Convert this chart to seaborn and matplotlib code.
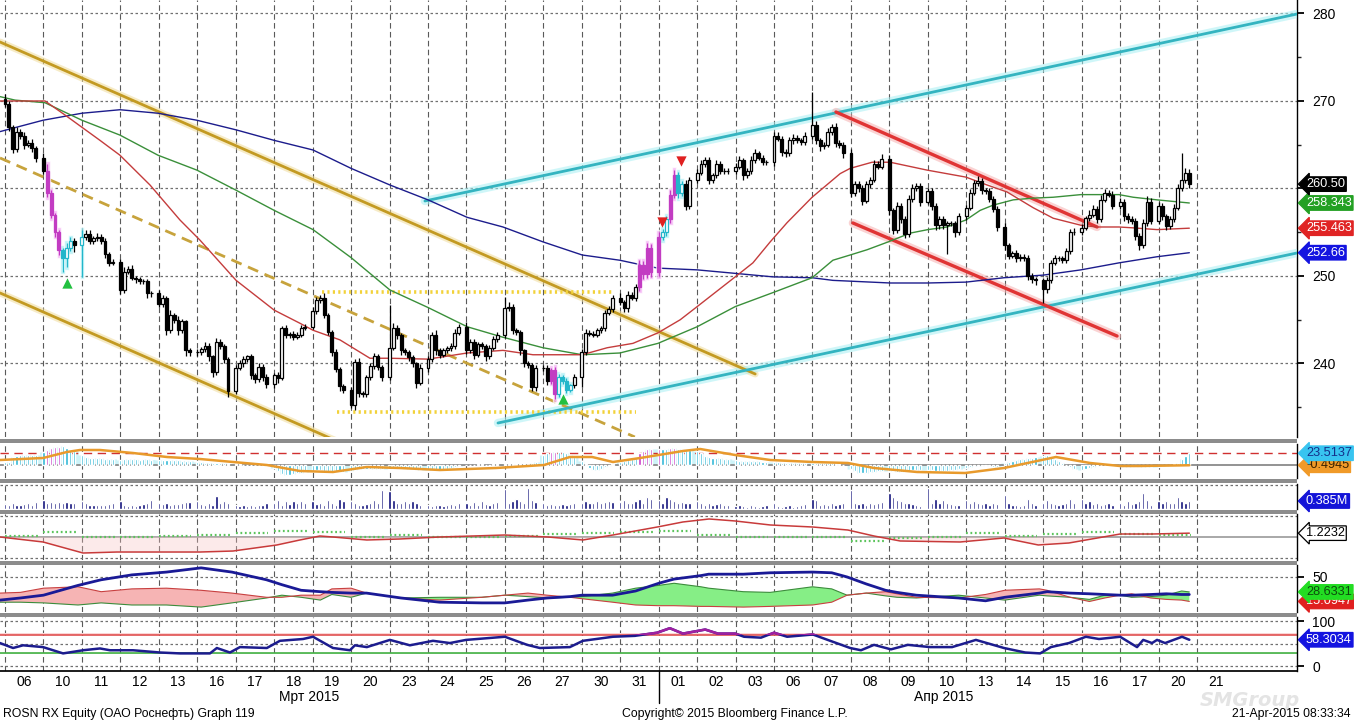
import numpy as np
import pandas as pd
import matplotlib
matplotlib.use("Agg")
import matplotlib.pyplot as plt
from matplotlib.patches import Rectangle
import seaborn as sns

sns.set_theme(style="white")
plt.rcParams["font.family"] = ["Liberation Sans", "DejaVu Sans"]

# ---------------- data ----------------
DAY_LABELS = ["06", "10", "11", "12", "13", "16", "17", "18", "19", "20", "23", "24", "25", "26", "27", "30", "31",
              "01", "02", "03", "06", "07", "08", "09", "10", "13", "14", "15", "16", "17", "20", "21"]
MONTH_LABELS = ["Мрт 2015", "Апр 2015"]
MONTH_X = [7.9, 24.4]
MONTH_SPLIT = 17
PRICE_TICKS = [240, 250, 260, 270, 280]
PRICE_TICK_LABELS = ["240", "250", "", "270", "280"]   # 260 sits under the last-price tag

OPEN_FIRST = 270.2
CLOSE = [
    [269.6, 267.0, 264.5, 266.5, 266.0, 265.0, 265.2, 264.6, 263.5],
    [262.0, 259.5, 257.0, 255.0, 253.0, 252.0, 253.2, 254.0, 253.5],
    [254.5, 254.8, 254.0, 254.3, 254.5, 254.0, 252.5, 251.5, 251.6],
    [248.4, 250.5, 250.8, 249.8, 249.6, 249.4, 249.4, 248.0, 248.0],
    [246.8, 247.5, 243.8, 245.5, 245.0, 243.8, 244.8, 241.5, 241.3],
    [241.3, 241.6, 242.0, 240.8, 239.0, 242.5, 242.0, 240.5, 236.8],
    [239.5, 240.0, 240.5, 240.8, 238.7, 238.2, 239.6, 238.5, 237.6],
    [238.7, 238.3, 244.0, 243.2, 243.4, 243.0, 243.3, 244.0, 244.2],
    [246.0, 247.3, 247.5, 245.5, 243.6, 241.3, 239.4, 237.4, 237.0],
    [235.2, 240.2, 236.6, 236.5, 238.5, 239.7, 240.8, 239.6, 238.5],
    [241.8, 244.0, 243.2, 241.5, 241.3, 240.7, 240.0, 237.8, 239.5],
    [240.5, 243.3, 241.5, 241.0, 241.5, 241.8, 242.0, 243.5, 244.2],
    [241.5, 242.5, 241.0, 242.2, 242.0, 240.8, 241.8, 242.8, 243.2],
    [246.3, 246.5, 243.8, 243.6, 241.5, 240.0, 239.8, 237.3, 239.5],
    [239.5, 238.0, 239.3, 236.5, 238.5, 238.0, 237.0, 237.5, 238.5],
    [241.3, 243.5, 243.4, 243.3, 243.8, 244.0, 245.8, 246.2, 247.5],
    [247.0, 246.3, 247.8, 247.5, 248.7, 251.3, 250.2, 253.2, 250.5],
    [254.5, 255.0, 256.5, 259.3, 261.5, 259.5, 260.5, 258.0, 261.0],
    [261.8, 262.8, 263.2, 261.0, 261.5, 262.8, 262.0, 262.0, 262.0],
    [262.5, 263.2, 261.5, 262.0, 263.3, 264.0, 263.5, 263.0, 263.0],
    [266.0, 265.7, 264.2, 264.0, 265.5, 265.8, 265.5, 265.3, 266.0],
    [267.2, 265.5, 264.8, 265.0, 266.5, 267.0, 265.2, 265.0, 264.0],
    [259.5, 260.5, 260.0, 258.6, 260.5, 261.0, 262.8, 262.5, 263.4],
    [257.5, 255.3, 258.0, 256.5, 254.8, 258.8, 260.0, 260.3, 258.5],
    [259.7, 258.0, 255.8, 256.5, 255.8, 256.0, 256.0, 255.0, 256.8],
    [257.8, 259.5, 260.6, 260.9, 259.8, 259.7, 258.8, 257.7, 255.6],
    [253.5, 252.3, 252.6, 252.0, 252.2, 252.0, 250.0, 249.6, 249.5],
    [248.5, 249.5, 251.5, 252.0, 252.0, 251.8, 252.8, 255.0, 255.0],
    [255.5, 256.6, 257.0, 257.7, 256.5, 258.7, 259.5, 259.3, 258.0],
    [258.5, 256.8, 256.5, 256.3, 254.6, 253.5, 256.0, 258.5, 256.3],
    [258.0, 256.8, 255.7, 256.5, 257.8, 260.0, 261.0, 261.8, 260.5],
]
# upper / lower shadow lengths, tenths of a rouble
WICK_UP = [
    [6, 4, 3, 5, 3, 4, 3, 4, 3], [5, 8, 3, 2, 3, 2, 6, 4, 3], [8, 4, 5, 3, 4, 3, 3, 2, 3],
    [3, 5, 3, 4, 2, 3, 2, 2, 3], [4, 3, 2, 6, 3, 4, 3, 2, 3], [4, 3, 5, 3, 2, 4, 3, 2, 2],
    [3, 4, 3, 2, 3, 2, 4, 3, 3], [2, 3, 3, 4, 2, 3, 3, 4, 3], [4, 3, 3, 5, 3, 2, 3, 2, 3],
    [3, 3, 4, 2, 2, 3, 4, 3, 2], [49, 6, 4, 3, 3, 2, 3, 2, 4], [4, 3, 5, 3, 3, 2, 3, 4, 3],
    [5, 3, 3, 2, 3, 2, 3, 3, 4], [13, 5, 3, 3, 2, 2, 3, 2, 3], [3, 3, 2, 3, 3, 2, 3, 2, 3],
    [3, 4, 3, 3, 3, 3, 3, 4, 3], [6, 3, 5, 4, 4, 5, 4, 6, 4], [5, 4, 4, 5, 6, 4, 4, 5, 3],
    [4, 5, 4, 4, 3, 4, 3, 3, 3], [4, 5, 3, 3, 4, 5, 3, 3, 3], [5, 4, 3, 3, 4, 4, 3, 3, 4],
    [38, 5, 3, 3, 4, 4, 5, 3, 3], [5, 4, 3, 4, 4, 3, 4, 3, 5], [4, 3, 5, 3, 3, 4, 5, 3, 3],
    [4, 3, 3, 4, 3, 3, 3, 3, 4], [3, 4, 4, 5, 3, 3, 3, 3, 3], [4, 3, 3, 4, 3, 3, 4, 3, 3],
    [3, 4, 3, 4, 3, 3, 4, 4, 5], [4, 3, 5, 4, 3, 5, 4, 3, 4], [4, 3, 4, 3, 3, 3, 5, 6, 4],
    [4, 3, 3, 4, 4, 5, 30, 5, 4],
]
WICK_DN = [
    [3, 4, 5, 3, 4, 5, 3, 4, 5], [3, 5, 4, 5, 6, 15, 10, 4, 8], [36, 4, 3, 4, 3, 4, 5, 4, 3],
    [5, 4, 3, 3, 4, 3, 3, 5, 4], [3, 4, 5, 3, 4, 5, 3, 6, 4], [4, 3, 3, 5, 5, 3, 4, 5, 6],
    [3, 3, 4, 3, 5, 4, 3, 5, 4], [4, 5, 2, 3, 3, 3, 2, 3, 2], [3, 3, 4, 3, 4, 5, 4, 5, 4],
    [3, 5, 4, 3, 3, 4, 3, 4, 5], [4, 3, 4, 5, 3, 4, 4, 6, 3], [5, 3, 5, 4, 3, 3, 4, 3, 3],
    [4, 3, 5, 3, 4, 5, 3, 3, 3], [3, 3, 4, 3, 5, 4, 3, 5, 4], [4, 5, 3, 6, 3, 4, 4, 3, 3],
    [12, 3, 3, 3, 3, 3, 3, 3, 3], [3, 4, 4, 3, 4, 4, 5, 4, 6], [5, 4, 4, 4, 4, 6, 4, 5, 4],
    [4, 3, 4, 5, 4, 3, 4, 3, 3], [4, 3, 5, 3, 3, 4, 3, 3, 3], [4, 3, 5, 4, 3, 4, 3, 3, 3],
    [4, 4, 5, 3, 3, 4, 5, 4, 5], [5, 4, 4, 5, 3, 4, 3, 3, 3], [5, 5, 4, 4, 5, 3, 3, 3, 5],
    [3, 5, 5, 4, 4, 33, 3, 5, 3], [4, 3, 3, 3, 4, 3, 4, 4, 5], [5, 4, 3, 4, 3, 3, 5, 4, 5],
    [16, 4, 3, 3, 3, 3, 3, 3, 3], [3, 3, 3, 3, 5, 3, 3, 3, 4], [3, 5, 4, 4, 5, 5, 3, 3, 4],
    [4, 4, 4, 3, 3, 3, 3, 4, 5],
]
# bar highlight: k = normal, m = magenta, c = cyan
BAR_TAG = ["kkkkkkkkk", "kmmmmccck", "ckkkkkkkk", "kkkkkkkkk", "kkkkkkkkk", "kkkkkkkkk", "kkkkkkkkk",
           "kkkkkkkkk", "kkkkkkkkk", "kkkkkkkkk", "kkkkkkkkk", "kkkkkkkkk", "kkkkkkkkk", "kkkkkkkkk",
           "kkmmcccck", "kkkkkkkkk", "kkkkkmmmm", "mccmmcckk", "kkkkkkkkk", "kkkkkkkkk", "kkkkkkkkk",
           "kkkkkkkkk", "kkkkkkkkk", "kkkkkkkkk", "kkkkkkkkk", "kkkkkkkkk", "kkkkkkkkk", "kkkkkkkkk",
           "kkkkkkkkk", "kkkkkkkkk", "kkkkkkkkk"]

RED_MA_X = [-0.13, 1.04, 1.56, 2.47, 2.99, 3.77, 4.55, 5.07, 6.01, 7.0, 7.67, 8.01, 8.71, 9.49, 10.01, 11.0,
            12.02, 12.95, 13.73, 15.01, 15.66, 16.33, 16.98, 17.56, 18.0, 18.99, 19.45, 19.9, 20.34, 20.99,
            21.72, 21.98, 22.55, 23.02, 23.98, 24.99, 25.54, 26.06, 26.74, 27.26, 27.98, 28.4, 28.97, 29.34,
            29.96, 30.8]
RED_MA_Y = [270.0, 270.0, 268.4, 265.5, 263.8, 260.4, 256.4, 254.1, 249.5, 246.1, 244.6, 243.8, 242.7, 240.6,
            240.6, 240.5, 241.2, 241.5, 241.0, 241.0, 241.8, 242.3, 243.5, 245.0, 246.5, 249.9, 251.5, 253.9,
            256.1, 259.0, 261.7, 262.3, 263.0, 263.0, 262.1, 261.3, 260.4, 259.6, 257.8, 256.6, 255.8, 255.6,
            255.6, 255.5, 255.3, 255.463]
GREEN_MA_X = [-0.13, 0.26, 1.04, 2.0, 2.99, 3.98, 4.99, 6.01, 7.0, 8.01, 9.0, 10.01, 11.0, 12.02, 12.95, 13.99,
              15.01, 15.99, 16.98, 18.0, 18.99, 19.97, 20.99, 21.53, 21.98, 22.42, 22.97, 23.54, 24.0, 24.5,
              24.99, 25.36, 25.7, 26.22, 26.74, 27.26, 27.98, 28.97, 29.34, 29.96, 30.8]
GREEN_MA_Y = [270.5, 270.1, 269.8, 267.8, 266.1, 263.8, 262.1, 259.8, 257.5, 255.3, 252.1, 248.4, 246.4, 244.2,
              243.0, 241.8, 241.0, 241.2, 242.3, 244.2, 246.5, 248.1, 249.8, 251.8, 252.4, 253.0, 253.9, 254.9,
              255.3, 255.6, 256.4, 257.5, 258.1, 258.7, 258.9, 259.0, 259.3, 259.3, 259.0, 258.7, 258.343]
BLUE_MA_X = [-0.13, 0.99, 2.0, 2.99, 3.98, 4.99, 6.01, 7.0, 8.01, 9.0, 10.01, 11.0, 12.02, 12.95, 13.99, 15.01,
             15.99, 16.52, 16.98, 18.0, 18.99, 19.97, 20.99, 21.53, 23.02, 24.0, 24.99, 25.98, 27.0, 27.98,
             28.97, 29.96, 30.8]
BLUE_MA_Y = [266.5, 267.8, 268.6, 269.0, 268.6, 267.8, 266.7, 265.5, 264.4, 262.3, 260.4, 258.7, 256.7, 255.6,
             253.9, 252.4, 251.8, 251.3, 250.9, 250.7, 250.3, 249.9, 249.8, 249.5, 249.2, 249.2, 249.3, 249.8,
             250.1, 250.7, 251.5, 252.2, 252.66]

# hand-drawn trend lines: (x0, x1), (y0, y1)
GOLD_UPPER = ([-0.13, 19.51], [276.74, 238.8])
GOLD_LOWER = ([-0.13, 9.0], [248.06, 230.42])
GOLD_MID = ([-0.13, 16.38], [263.49, 231.6])
YEL_UPPER = ([8.24, 15.79], [248.2, 248.2])
YEL_LOWER = ([8.63, 16.41], [234.5, 234.5])
CYAN_UPPER = ([10.92, 33.6], [258.57, 279.94])
CYAN_LOWER = ([12.82, 33.6], [233.2, 252.63])
RED_UPPER = ([21.61, 28.4], [268.74, 255.6])
RED_LOWER = ([22.05, 28.92], [256.06, 243.14])
SIG_DN_X, SIG_DN_Y = [17.58, 17.09], [263.1, 256.2]
SIG_UP_X, SIG_UP_Y = [1.61, 14.51], [249.2, 235.9]

LAST_PRICE = 260.50

MACD_HIST = [
    [6, 6, 16, 18, 20, 20, 20, 20, 20], [26, 30, 34, 36, 36, 38, 34, 30, 28], [20, 16, 14, 14, 14, 14, 12, 12, 12],
    [10, 12, 12, 12, 12, 11, 12, 12, 11], [10, 10, 10, 10, 10, 10, 9, 9, 8], [6, 6, 5, 5, 5, 4, 4, 4, 3],
    [2, 2, 1, 1, 1, 0, 0, -1, -1], [-6, -12, -18, -20, -20, -18, -16, -16, -14],
    [-12, -10, -10, -12, -14, -14, -14, -14, -14], [-12, -10, -8, -8, -8, -8, -8, -8, -8],
    [-8, -6, -6, -6, -8, -8, -8, -10, -10], [-10, -10, -10, -10, -10, -8, -6, -4, -2],
    [0, 1, 1, 2, 2, 1, 1, 2, 2], [2, 2, 2, 2, 2, 2, 2, 4, 6], [20, 24, 26, 26, 26, 26, 24, 20, 16],
    [8, 2, -6, -10, -10, -8, -4, -2, 2], [6, 8, 10, 12, 14, 24, 28, 32, 32], [32, 32, 32, 34, 34, 32, 32, 30, 30],
    [28, 24, 18, 16, 14, 14, 14, 12, 12], [10, 8, 8, 8, 8, 8, 8, 6, 6], [6, 6, 5, 5, 5, 5, 4, 4, 4],
    [4, 4, 4, 4, 4, 4, 3, 2, 0], [-8, -12, -16, -16, -16, -14, -14, -12, -12],
    [-12, -12, -14, -14, -12, -12, -10, -10, -10], [-10, -10, -12, -12, -12, -12, -10, -10, -8],
    [-6, -4, -2, -2, -2, -2, -2, -4, -4], [4, 6, 8, 10, 12, 12, 14, 14, 16], [18, 20, 16, 12, 8, 4, 0, -4, -8],
    [-10, -8, -6, -4, -2, 0, 0, 0, 0], [-2, -4, -4, -4, -4, -4, -4, -4, -4], [-4, -2, -2, 0, 2, 4, 12, 18, 23.5137],
]
MACD_SIG_X = [-0.13, 0.99, 1.61, 1.95, 2.47, 3.33, 4.21, 5.07, 5.93, 6.81, 7.67, 8.53, 9.41, 10.27, 11.31, 12.77,
              14.02, 14.69, 15.27, 15.81, 16.52, 17.63, 18.08, 18.99, 19.9, 21.01, 21.92, 22.6, 23.72, 24.97,
              25.98, 27.33, 28.22, 29.0, 29.5, 30.8]
MACD_SIG_Y = [10, 14, 26, 30, 30, 24, 16, 12, 6, 0, -12, -14, -4, -6, -10, -6, 0, 16, 16, 6, 14, 28, 32, 20, 10,
              6, 4, -6, -14, -16, -6, 16, 4, -2, -2, -0.4945]
MACD_LEVEL = 24

VOLUME = [
    [0.25, 0.2, 0.3, 0.2, 0.2, 0.25, 0.3, 0.2, 0.35], [0.45, 0.3, 0.35, 0.3, 0.35, 0.3, 0.35, 0.3, 0.3],
    [0.37, 0.29, 0.2, 0.18, 0.2, 0.18, 0.2, 0.25, 0.3], [0.37, 0.2, 0.15, 0.2, 0.15, 0.2, 0.25, 0.3, 0.45],
    [0.3, 0.25, 0.3, 0.2, 0.25, 0.25, 0.3, 0.35, 0.35], [0.37, 0.25, 0.2, 0.3, 0.2, 0.61, 0.3, 0.37, 0.29],
    [0.2, 0.15, 0.2, 0.15, 0.2, 0.15, 0.2, 0.2, 0.3], [0.3, 0.45, 0.2, 0.37, 0.25, 0.4, 0.3, 0.37, 0.3],
    [0.37, 0.25, 0.3, 0.2, 0.45, 0.3, 0.2, 0.5, 0.37], [0.4, 0.3, 0.2, 0.2, 0.25, 0.3, 0.45, 0.3, 0.93],
    [0.85, 0.45, 0.3, 0.3, 0.37, 0.3, 0.37, 0.3, 0.2], [0.2, 0.15, 0.2, 0.2, 0.15, 0.2, 0.25, 0.2, 0.3],
    [0.3, 0.2, 0.35, 0.2, 0.4, 0.25, 0.2, 0.3, 0.35], [0.96, 0.3, 0.4, 0.5, 0.4, 0.3, 1.0, 0.45, 0.35],
    [0.3, 0.2, 0.25, 0.2, 0.2, 0.25, 0.2, 0.25, 0.3], [0.3, 0.37, 0.3, 0.29, 0.4, 0.3, 0.35, 0.4, 0.35],
    [0.35, 0.45, 0.3, 0.3, 0.4, 0.5, 0.3, 0.6, 0.5], [0.45, 0.3, 0.6, 0.5, 0.4, 0.3, 0.35, 0.3, 0.3],
    [0.37, 0.3, 0.2, 0.3, 0.2, 0.25, 0.3, 0.2, 0.2], [0.15, 0.2, 0.15, 0.1, 0.2, 0.15, 0.1, 0.15, 0.2],
    [0.3, 0.15, 0.1, 0.15, 0.2, 0.1, 0.15, 0.2, 0.25], [0.5, 0.45, 0.2, 0.25, 0.2, 0.3, 0.2, 0.25, 0.3],
    [0.93, 0.3, 0.25, 0.3, 0.2, 0.3, 0.25, 0.3, 0.35], [0.77, 0.6, 0.45, 0.37, 0.3, 0.3, 0.25, 0.2, 0.15],
    [1.0, 0.3, 0.5, 0.3, 0.45, 0.3, 0.25, 0.2, 0.2], [0.45, 0.3, 0.37, 0.3, 0.25, 0.3, 0.2, 0.3, 0.25],
    [0.69, 0.3, 0.2, 0.2, 0.15, 0.2, 0.5, 0.3, 0.2], [0.3, 0.45, 0.3, 0.25, 0.2, 0.25, 0.3, 0.5, 0.3],
    [0.5, 0.3, 0.37, 0.25, 0.3, 0.2, 0.25, 0.3, 0.2], [0.29, 0.2, 0.37, 0.25, 0.3, 0.37, 0.77, 0.45, 0.2],
    [0.37, 0.29, 0.37, 0.3, 0.3, 0.6, 0.37, 0.3, 0.385],
]

P4_X = [-0.13, 0.99, 2.03, 2.91, 5.07, 5.93, 7.07, 7.67, 8.19, 8.53, 9.41, 10.27, 11.31, 13.0, 14.12, 15.03,
        15.81, 16.96, 17.63, 18.31, 18.99, 19.9, 21.01, 21.92, 22.6, 23.28, 24.84, 25.98, 26.87, 27.67, 29.0,
        29.83, 30.8]
P4_Y = [1.15, 1.055, 0.845, 0.864, 0.864, 0.883, 0.998, 1.093, 1.169, 1.15, 1.093, 1.112, 1.15, 1.188, 1.15,
        1.093, 1.188, 1.34, 1.436, 1.493, 1.455, 1.379, 1.34, 1.283, 1.169, 1.074, 1.055, 1.131, 0.998, 1.036,
        1.207, 1.207, 1.2232]
P4_BASE = 1.15
P4_OSC = [1.17, 1.25, 1.15, 1.15, 1.17, 1.18, 1.23, 1.27, 1.25, 1.15, 1.18, 1.15, 1.15, 1.17, 1.21, 1.23,
          1.25, 1.27, 1.19, 1.15, 1.15, 1.15, 1.07, 1.13, 1.15, 1.23, 1.17, 1.21, 1.25, 1.21, 1.18]

DMI_X = [-0.13, 0.4, 1.0, 1.9, 2.5, 3.3, 4.2, 5.1, 5.9, 6.8, 7.2, 7.7, 8.2, 8.5, 9.0, 9.4, 10.3, 11.3, 12.4,
         13.0, 13.6, 14.1, 14.7, 15.0, 15.8, 16.4, 17.0, 17.4, 18.1, 18.3, 19.2, 19.9, 21.0, 21.5, 21.9, 22.4,
         22.9, 23.2, 23.7, 24.8, 25.5, 26.0, 26.9, 27.1, 27.7, 28.2, 28.6, 29.0, 29.3, 29.8, 30.2, 30.6, 30.8]
ADX = [17, 20, 24, 38, 46, 53, 57, 63, 57, 46, 39, 31, 29, 28, 27, 27, 20, 14, 13, 13, 17, 20, 22, 24, 24, 30,
       41, 47, 52, 54, 54, 56, 57, 56, 50, 40, 31, 28, 24, 20, 16, 21, 27, 29, 27, 26, 25, 24, 24, 25, 26, 25, 25]
DI_PLUS = [14, 14, 13, 10, 13, 10, 10, 7, 13, 20, 24, 21, 17, 25, 21, 27, 20, 21, 21, 24, 22, 20, 21, 22, 27,
           34, 38, 41, 36, 34, 29, 28, 36, 33, 24, 27, 23, 21, 20, 24, 20, 17, 24, 23, 21, 18, 24, 24, 21, 22,
           24, 30, 28.6331]
DI_MINUS = [27, 28, 34, 36, 29, 33, 34, 31, 27, 21, 21, 24, 24, 33, 34, 27, 20, 17, 21, 24, 27, 24, 21, 19, 14,
            10, 9, 9, 8, 8, 7, 8, 10, 14, 24, 27, 29, 26, 21, 20, 25, 31, 33, 31, 21, 15, 20, 24, 26, 20, 18,
            17, 15.0947]

RSI_X = [-0.13, 0.21, 0.47, 0.99, 1.51, 2.03, 2.47, 2.73, 3.33, 4.03, 4.55, 5.33, 5.51, 5.85, 6.11, 6.81, 7.15,
         7.75, 8.01, 8.53, 8.97, 9.10, 9.41, 10.01, 10.53, 11.13, 11.57, 11.99, 13.0, 13.58, 13.91, 14.69, 15.03,
         15.81, 16.38, 16.96, 17.29, 17.63, 18.21, 18.54, 18.99, 19.22, 19.66, 20.0, 20.34, 21.01, 21.46, 21.98,
         22.26, 22.6, 23.04, 23.48, 24.06, 24.63, 25.25, 25.98, 26.53, 26.92, 27.2, 27.67, 28.11, 28.45, 29.0,
         29.44, 29.6, 29.83, 29.96, 30.17, 30.61, 30.8]
RSI_Y = [51, 40, 46, 42, 28, 35, 39, 35, 35, 30, 28, 28, 40, 30, 42, 40, 56, 60, 65, 40, 35, 46, 42, 58, 46,
         56, 51, 58, 65, 47, 40, 42, 56, 65, 67, 74, 84, 72, 81, 72, 72, 65, 63, 74, 65, 70, 56, 40, 35, 47,
         37, 47, 42, 42, 58, 40, 30, 28, 42, 51, 65, 60, 65, 42, 58, 51, 58, 51, 65, 58.3034]

FOOT_LEFT = "ROSN RX Equity (ОАО Роснефть) Graph 119"
FOOT_MID = "Copyright© 2015 Bloomberg Finance L.P."
FOOT_RIGHT = "21-Apr-2015 08:33:34"
WATERMARK = "SMGroup"

# ---------------- tidy tables ----------------
rows = []
prev = OPEN_FIRST
for d, (cs, ups, dns, tags, vols, hist) in enumerate(zip(CLOSE, WICK_UP, WICK_DN, BAR_TAG, VOLUME, MACD_HIST)):
    for j, c in enumerate(cs):
        o = prev
        rows.append(dict(x=d + 0.1 * j, o=o, c=c, h=max(o, c) + ups[j] / 10, l=min(o, c) - dns[j] / 10,
                         tag=tags[j], vol=vols[j], osc=hist[j]))
        prev = c
bars = pd.DataFrame(rows)
bars["up"] = bars["c"] >= bars["o"]

# ---------------- figure ----------------
W, H = 1354, 723
PLOT_R = 1297
fig = plt.figure(figsize=(W / 100, H / 100), dpi=100)
fig.patch.set_facecolor("white")


def panel(top, bottom):
    return fig.add_axes([0, 1 - bottom / H, PLOT_R / W, (bottom - top) / H])


ax = panel(0, 437)
ax_macd = panel(444, 478)
ax_vol = panel(484, 509)
ax_p4 = panel(514, 560)
ax_dmi = panel(565, 612)
ax_rsi = panel(617, 671)
axes = [ax, ax_macd, ax_vol, ax_p4, ax_dmi, ax_rsi]

for y0, y1 in [(439, 443), (479, 483), (509.5, 513.5), (560.5, 564.5), (612.5, 616.5)]:
    fig.patches.append(Rectangle((0, 1 - y1 / H), PLOT_R / W, (y1 - y0) / H, transform=fig.transFigure,
                                 facecolor="#8c8c8c", edgecolor="none", zorder=5))

for a in axes:
    a.set_xlim(-0.13, 33.6)
    a.set_facecolor("white")
    for s in ["top", "left", "bottom"]:
        a.spines[s].set_visible(False)
    a.spines["right"].set_color("black")
    a.spines["right"].set_linewidth(1.0)
    for d in range(len(DAY_LABELS)):
        a.axvline(d, color="#5a5a5a", lw=0.8, ls=(0, (5, 3)), zorder=0.5)
    a.set_xticks([])
    a.yaxis.tick_right()
    a.tick_params(axis="y", left=False, labelleft=False, right=True, labelright=True,
                  direction="out", length=5, width=1.3, pad=6, labelsize=10, colors="black")
    a.set_yticks([])

# ---------------- main price panel ----------------
ax.set_ylim(231.6, 281.54)
ax.set_yticks(PRICE_TICKS)
ax.set_yticklabels(PRICE_TICK_LABELS)
ax.set_yticks([235, 245, 255, 265, 275], minor=True)
ax.tick_params(axis="y", which="minor", right=True, length=3, width=1, direction="out")
for v in PRICE_TICKS:
    ax.axhline(v, color="#707070", lw=0.9, ls=(0, (2, 2)), zorder=0.6)


def glow_line(xy, color, glow, lw, glw, ls="-", z=3):
    ax.plot(xy[0], xy[1], color=glow, lw=glw, solid_capstyle="round", alpha=0.55, zorder=z - 0.1)
    ax.plot(xy[0], xy[1], color=color, lw=lw, ls=ls, zorder=z)


glow_line(GOLD_UPPER, "#c39a22", "#f0dc9a", 2.0, 5)
glow_line(GOLD_LOWER, "#c39a22", "#f0dc9a", 2.0, 5)
ax.plot(GOLD_MID[0], GOLD_MID[1], color="#c7a33c", lw=2.0, ls=(0, (4, 2.5)), zorder=3)
ax.plot(YEL_UPPER[0], YEL_UPPER[1], color="#f2d23a", lw=2.6, ls=(0, (0.6, 0.9)), zorder=3)
ax.plot(YEL_LOWER[0], YEL_LOWER[1], color="#f2d23a", lw=2.6, ls=(0, (0.6, 0.9)), zorder=3)
glow_line(CYAN_UPPER, "#34b4c0", "#a8f0f4", 2.0, 6)
glow_line(CYAN_LOWER, "#34b4c0", "#a8f0f4", 2.0, 6)
glow_line(RED_UPPER, "#e03434", "#f6b0b0", 2.4, 6)
glow_line(RED_LOWER, "#e03434", "#f6b0b0", 2.4, 6)

sns.lineplot(x=BLUE_MA_X, y=BLUE_MA_Y, ax=ax, color="#1c1c8c", lw=1.0, estimator=None, zorder=4)
sns.lineplot(x=GREEN_MA_X, y=GREEN_MA_Y, ax=ax, color="#3a8f3a", lw=1.0, estimator=None, zorder=4)
sns.lineplot(x=RED_MA_X, y=RED_MA_Y, ax=ax, color="#c43c3c", lw=1.0, estimator=None, zorder=4)

TAG_COL = {"k": "black", "m": "#c23cc2", "c": "#22b6ca"}
GLOW_COL = {"m": "#f3a6f3", "c": "#a6eef6"}
hl = bars[bars["tag"] != "k"]
ax.bar(hl["x"], hl["h"] - hl["l"] + 0.6, bottom=hl["l"] - 0.3, width=0.12,
       color=[GLOW_COL[t] for t in hl["tag"]], alpha=0.7, zorder=5)
ax.vlines(bars["x"], bars["l"], bars["h"], colors=[TAG_COL[t] for t in bars["tag"]], lw=0.9, zorder=6)
face = [("white" if u else "black") if t == "k" else (TAG_COL[t] if (t == "m" or not u) else "white")
        for t, u in zip(bars["tag"], bars["up"])]
ax.bar(bars["x"], bars["c"] - bars["o"], bottom=bars["o"], width=0.075, color=face,
       edgecolor=[TAG_COL[t] for t in bars["tag"]], lw=0.9, zorder=7)

ax.scatter(SIG_DN_X, SIG_DN_Y, marker="v", s=55, color="#e02020", zorder=8, linewidths=0)
ax.scatter(SIG_UP_X, SIG_UP_Y, marker="^", s=55, color="#22c040", zorder=8, linewidths=0)


def price_tag(a, y, text, fc, tc, ec=None, z=10, size=9.2):
    a.text(1 + 9 / PLOT_R, y, text, transform=a.get_yaxis_transform(), ha="left", va="center",
           fontsize=size, color=tc, clip_on=False, zorder=z,
           bbox=dict(boxstyle="larrow,pad=0.1", fc=fc, ec=ec or fc, lw=0.9))


price_tag(ax, LAST_PRICE, f"{LAST_PRICE:.2f}", "black", "white", z=12)
price_tag(ax, GREEN_MA_Y[-1], f"{GREEN_MA_Y[-1]:.3f}", "#23a023", "white", z=11)
price_tag(ax, RED_MA_Y[-1], f"{RED_MA_Y[-1]:.3f}", "#e02424", "white")
price_tag(ax, BLUE_MA_Y[-1], f"{BLUE_MA_Y[-1]:.2f}", "#1414e0", "white")

# ---------------- MACD-type panel ----------------
ax_macd.set_ylim(-26, 42)
ax_macd.fill_between(bars["x"], bars["osc"], 0, step="mid", color="#cdf3f8", lw=0, zorder=1)
ax_macd.axhline(MACD_LEVEL, color="#d03030", lw=1.0, ls=(0, (6, 4)), zorder=1.2)
ax_macd.axhline(0, color="#8a8a8a", lw=1.3, zorder=1.2)
ax_macd.bar(bars["x"], bars["osc"], width=0.055,
            color=["#c83cc8" if t == "m" else "#30b8d6" for t in bars["tag"]], zorder=3)
sns.lineplot(x=MACD_SIG_X, y=MACD_SIG_Y, ax=ax_macd, color="#e89a2c", lw=1.8, estimator=None, zorder=4)
price_tag(ax_macd, MACD_SIG_Y[-1], f"{MACD_SIG_Y[-1]:.4f}", "#f09a28", "#3a2200", z=9)
price_tag(ax_macd, MACD_HIST[-1][-1], f"{MACD_HIST[-1][-1]:.4f}", "#38c4f0", "#15308a", z=10)
ax_macd.set_yticks([])

# ---------------- volume ----------------
ax_vol.set_ylim(0, 1.2)
ax_vol.axhline(1.16, color="#707070", lw=0.9, ls=(0, (2, 2)), zorder=1)
ax_vol.bar(bars["x"], bars["vol"], width=0.06, color="#10107a", zorder=3)
price_tag(ax_vol, VOLUME[-1][-1], f"{VOLUME[-1][-1]:.3f}M", "#1414d8", "white")

# ---------------- ratio panel ----------------
ax_p4.set_ylim(0.712, 1.588)
for v in [1.55, 0.75]:
    ax_p4.axhline(v, color="#707070", lw=0.9, ls=(0, (2, 2)), zorder=1)
ax_p4.axhline(P4_BASE, color="#9a9a9a", lw=1.2, zorder=1)
ax_p4.fill_between(P4_X, P4_Y, P4_BASE, where=[v < P4_BASE for v in P4_Y], interpolate=True,
                   color="#f7c4c4", alpha=0.35, lw=0, zorder=1.5)
for d, v in enumerate(P4_OSC):
    ax_p4.plot([d, d + 0.85], [v, v], color="#5cc45c", lw=1.6, ls=(0, (0.8, 1.2)), zorder=2)
sns.lineplot(x=P4_X, y=P4_Y, ax=ax_p4, color="#c83a3a", lw=1.1, estimator=None, zorder=3)
price_tag(ax_p4, P4_Y[-1], f"{P4_Y[-1]:.4f}", "white", "black", ec="black")

# ---------------- DMI ----------------
ax_dmi.set_ylim(0, 67.1)
ax_dmi.axhline(50, color="#707070", lw=0.9, ls=(0, (2, 2)), zorder=1)
pos = [p >= m for p, m in zip(DI_PLUS, DI_MINUS)]
ax_dmi.fill_between(DMI_X, DI_PLUS, DI_MINUS, where=pos, interpolate=True, color="#86ee86", lw=0, zorder=2)
ax_dmi.fill_between(DMI_X, DI_PLUS, DI_MINUS, where=[not p for p in pos], interpolate=True,
                    color="#f6b4b4", lw=0, zorder=2)
sns.lineplot(x=DMI_X, y=DI_PLUS, ax=ax_dmi, color="#3c8c3c", lw=0.8, estimator=None, zorder=3)
sns.lineplot(x=DMI_X, y=DI_MINUS, ax=ax_dmi, color="#c84040", lw=0.8, estimator=None, zorder=3)
sns.lineplot(x=DMI_X, y=ADX, ax=ax_dmi, color="#1a1a96", lw=2.0, estimator=None, zorder=4)
ax_dmi.set_yticks([50])
price_tag(ax_dmi, DI_MINUS[-1], f"{DI_MINUS[-1]:.4f}", "#e02020", "white", z=9)
price_tag(ax_dmi, DI_PLUS[-1], f"{DI_PLUS[-1]:.4f}", "#22dd22", "#0d4a0d", z=10)

# ---------------- RSI ----------------
ax_rsi.set_ylim(-11.1, 108.9)
for v in [100, 50, 0]:
    ax_rsi.axhline(v, color="#707070", lw=0.9, ls=(0, (2, 2)), zorder=1)
ax_rsi.axhspan(70, 74, color="#fbd6d6", lw=0, zorder=0.8)
ax_rsi.axhspan(26, 30, color="#d8f6d8", lw=0, zorder=0.8)
ax_rsi.axhline(70, color="#e05050", lw=1.2, zorder=1.2)
ax_rsi.axhline(30, color="#44b044", lw=1.2, zorder=1.2)
sns.lineplot(x=RSI_X, y=RSI_Y, ax=ax_rsi, color="#1c1c8e", lw=1.8, estimator=None, zorder=3)
over = ax_rsi.plot(RSI_X, RSI_Y, color="#a020a0", lw=1.8, zorder=3.5)[0]
clip = Rectangle((-1, 70), 40, 60, transform=ax_rsi.transData)
over.set_clip_path(clip)
ax_rsi.set_yticks([0, 100])
price_tag(ax_rsi, RSI_Y[-1], f"{RSI_Y[-1]:.4f}", "#1414e0", "white")

ax_rsi.spines["bottom"].set_visible(True)
ax_rsi.spines["bottom"].set_color("black")
ax_rsi.set_xticks([d + 0.5 for d in range(len(DAY_LABELS))])
ax_rsi.set_xticklabels(DAY_LABELS)
ax_rsi.tick_params(axis="x", bottom=True, length=0, pad=3, labelsize=10, colors="black")
ax_rsi.axvline(MONTH_SPLIT, ymin=-0.6, ymax=0, color="black", lw=1.0, clip_on=False)
for mx, ml in zip(MONTH_X, MONTH_LABELS):
    ax_rsi.text(mx, -0.48, ml, transform=ax_rsi.get_xaxis_transform(), ha="center", va="center",
                fontsize=10, color="black")

for a in axes:
    if a.get_legend():
        a.get_legend().remove()
    a.set_xlabel("")
    a.set_ylabel("")

# ---------------- footer ----------------
fig.text(1250 / W, 1 - 700 / H, WATERMARK, ha="center", va="center", fontsize=14, style="italic",
         weight="bold", color="#e4e4e4", family="DejaVu Sans", zorder=0)
fig.text(3 / W, 1 - 714 / H, FOOT_LEFT, ha="left", va="center", fontsize=8.8, color="black")
fig.text(735 / W, 1 - 714 / H, FOOT_MID, ha="center", va="center", fontsize=8.8, color="black")
fig.text(1350 / W, 1 - 714 / H, FOOT_RIGHT, ha="right", va="center", fontsize=8.8, color="black")

fig.savefig("out.png", dpi=100, facecolor="white")
